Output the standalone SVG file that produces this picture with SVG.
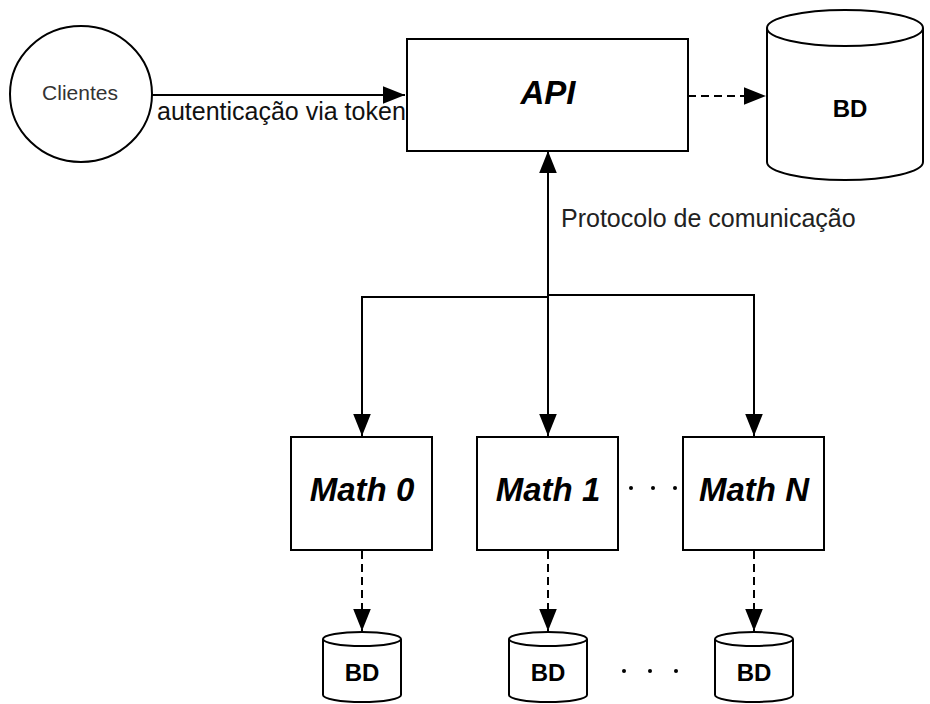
<svg xmlns="http://www.w3.org/2000/svg" width="930" height="704" viewBox="0 0 930 704">
  <defs>
    <style>
      .shape { fill: #ffffff; stroke: #000000; stroke-width: 2; }
      .edge { fill: none; stroke: #000000; stroke-width: 2; }
      .dash { stroke-dasharray: 8 5; }
      .label { font-family: "Liberation Sans", Arial, sans-serif; }
      .title { font-weight: bold; font-style: italic; font-size: 33px; fill: #000000; text-anchor: middle; }
      .db { font-weight: bold; font-size: 24px; fill: #000000; text-anchor: middle; }
      .dot { fill: #000000; }
    </style>
    <marker id="arrow" markerUnits="userSpaceOnUse" markerWidth="22" markerHeight="18" viewBox="0 0 20 16" refX="20" refY="8" orient="auto-start-reverse">
      <path d="M0,0 L20,8 L0,16 Z" fill="#000000"/>
    </marker>
  </defs>

  <!-- connectors -->
  <g id="connectors">
    <path class="edge" d="M152,95 H405" marker-end="url(#arrow)"/>
    <path class="edge dash" d="M688,96 H766" marker-end="url(#arrow)"/>
    <path class="edge" d="M548,151 V436" marker-start="url(#arrow)" marker-end="url(#arrow)"/>
    <path class="edge" d="M548,297 H362 V436" marker-end="url(#arrow)"/>
    <path class="edge" d="M548,295 H754 V436" marker-end="url(#arrow)"/>
    <path class="edge dash" d="M362,551 V631" marker-end="url(#arrow)"/>
    <path class="edge dash" d="M548,551 V631" marker-end="url(#arrow)"/>
    <path class="edge dash" d="M754,551 V631" marker-end="url(#arrow)"/>
  </g>

  <!-- edge labels -->
  <text class="label" x="157" y="120" font-size="25" fill="#111111">autenticação via token</text>
  <text class="label" x="561" y="227" font-size="25" fill="#222222">Protocolo de comunicação</text>

  <!-- client -->
  <g id="clientes">
    <ellipse class="shape" cx="81" cy="94" rx="71" ry="68"/>
    <text class="label" x="80" y="100" font-size="21" fill="#333333" text-anchor="middle">Clientes</text>
  </g>

  <!-- API server -->
  <g id="api">
    <rect class="shape" x="407" y="39" width="281" height="112"/>
    <text class="label title" x="548" y="104">API</text>
  </g>

  <!-- main database -->
  <g id="bd-main">
    <path class="shape" d="M767,28 V162 A78,18 0 0 0 923,162 V28"/>
    <ellipse class="shape" cx="845" cy="28" rx="78" ry="18"/>
    <text class="label db" x="850" y="117">BD</text>
  </g>

  <!-- workers -->
  <g id="math-0">
    <rect class="shape" x="291" y="437" width="141" height="113"/>
    <text class="label title" x="362" y="501">Math 0</text>
  </g>
  <g id="math-1">
    <rect class="shape" x="477" y="437" width="141" height="113"/>
    <text class="label title" x="548" y="501">Math 1</text>
  </g>
  <g id="math-n">
    <rect class="shape" x="683" y="437" width="141" height="113"/>
    <text class="label title" x="754" y="501">Math N</text>
  </g>
  <g id="ellipsis-workers">
    <circle class="dot" cx="631" cy="488" r="2"/>
    <circle class="dot" cx="653" cy="488" r="2"/>
    <circle class="dot" cx="675" cy="488" r="2"/>
  </g>

  <!-- worker databases -->
  <g id="bd-0">
    <path class="shape" d="M323,639 V695 A39,7 0 0 0 401,695 V639"/>
    <ellipse class="shape" cx="362" cy="639" rx="39" ry="7"/>
    <text class="label db" x="362" y="681">BD</text>
  </g>
  <g id="bd-1">
    <path class="shape" d="M509,639 V695 A39,7 0 0 0 587,695 V639"/>
    <ellipse class="shape" cx="548" cy="639" rx="39" ry="7"/>
    <text class="label db" x="548" y="681">BD</text>
  </g>
  <g id="bd-n">
    <path class="shape" d="M715,639 V695 A39,7 0 0 0 793,695 V639"/>
    <ellipse class="shape" cx="754" cy="639" rx="39" ry="7"/>
    <text class="label db" x="754" y="681">BD</text>
  </g>
  <g id="ellipsis-dbs">
    <circle class="dot" cx="624" cy="671" r="2"/>
    <circle class="dot" cx="650" cy="671" r="2"/>
    <circle class="dot" cx="676" cy="671" r="2"/>
  </g>
</svg>
